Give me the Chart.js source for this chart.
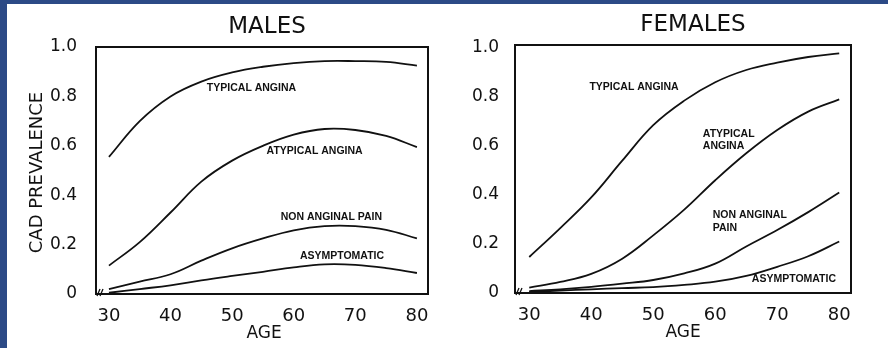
<!DOCTYPE html>
<html>
<head>
<meta charset="utf-8">
<script src="https://cdn.jsdelivr.net/npm/chart.js@4/dist/chart.umd.min.js"></script>
<style>
    html, body { margin: 0; padding: 0; }
    body { width: 888px; height: 348px; background: #2c4a86; position: relative; overflow: hidden; }
    #paper { position: absolute; left: 7px; top: 4px; width: 881px; height: 344px; background: #ffffff; }
    canvas { position: absolute; top: 0; }
    #males { left: 0; }
    #females { left: 444px; }
</style>
</head>
<body>
<div id="paper"></div>
<canvas id="males" width="444" height="348"></canvas>
<canvas id="females" width="444" height="348"></canvas>
<script>
const ages = [30, 35, 40, 45, 50, 55, 60, 65, 70, 75, 80];
const xTicks = [30, 40, 50, 60, 70, 80];
const yTicks = [0, 0.2, 0.4, 0.6, 0.8, 1.0];

const maleTypical = [0.555, 0.70, 0.80, 0.86, 0.897, 0.92, 0.935, 0.943, 0.943, 0.94, 0.925];
const maleAtypical = [0.115, 0.21, 0.33, 0.455, 0.54, 0.60, 0.645, 0.668, 0.664, 0.64, 0.595];
const maleNonAnginal = [0.02, 0.05, 0.08, 0.135, 0.185, 0.225, 0.258, 0.275, 0.275, 0.26, 0.225];
const maleAsymptomatic = [0.005, 0.02, 0.035, 0.055, 0.073, 0.09, 0.108, 0.12, 0.118, 0.105, 0.085];

const femaleTypical = [0.147, 0.265, 0.39, 0.54, 0.685, 0.785, 0.86, 0.91, 0.94, 0.963, 0.978];
const femaleAtypical = [0.022, 0.045, 0.078, 0.14, 0.235, 0.34, 0.46, 0.57, 0.665, 0.74, 0.79];
const femaleNonAnginal = [0.008, 0.015, 0.025, 0.038, 0.053, 0.08, 0.12, 0.19, 0.257, 0.33, 0.41];
const femaleAsymptomatic = [0.004, 0.01, 0.015, 0.02, 0.024, 0.033, 0.046, 0.07, 0.107, 0.15, 0.21];

// curve labels, anchored in data units (age, prevalence)
const maleNotes = [
    { text: "TYPICAL ANGINA", x: 45.9, y: 0.834 },
    { text: "ATYPICAL ANGINA", x: 55.6, y: 0.579 },
    { text: "NON ANGINAL PAIN", x: 57.9, y: 0.312 },
    { text: "ASYMPTOMATIC", x: 61.0, y: 0.154 }
];
const femaleNotes = [
    { text: "TYPICAL ANGINA", x: 39.7, y: 0.841 },
    { text: "ATYPICAL", x: 58.0, y: 0.649 },
    { text: "ANGINA", x: 58.0, y: 0.600 },
    { text: "NON ANGINAL", x: 59.6, y: 0.318 },
    { text: "PAIN", x: 59.6, y: 0.265 },
    { text: "ASYMPTOMATIC", x: 65.9, y: 0.057 }
];

const ink = "#111111";

function series(values) {
    return {
        data: ages.map((a, i) => ({ x: a, y: values[i] })),
        borderColor: ink,
        borderWidth: 1.8,
        pointRadius: 0,
        fill: false,
        tension: 0.4
    };
}

const decorPlugin = {
    id: "decor",
    afterDraw(chart, args, opts) {
        const ctx = chart.ctx;
        const area = chart.chartArea;
        const xs = chart.scales.x;
        const ys = chart.scales.y;
        ctx.save();

        // frame
        ctx.strokeStyle = ink;
        ctx.lineWidth = 2;
        ctx.strokeRect(area.left, area.top, area.right - area.left, area.bottom - area.top);

        // axis break marks
        ctx.lineWidth = 1.3;
        ctx.beginPath();
        ctx.moveTo(area.left + 1, area.bottom + 2);
        ctx.lineTo(area.left + 4, area.bottom - 5);
        ctx.moveTo(area.left + 4, area.bottom + 2);
        ctx.lineTo(area.left + 7, area.bottom - 5);
        ctx.stroke();

        // panel title
        ctx.fillStyle = ink;
        ctx.textAlign = "center";
        ctx.textBaseline = "middle";
        ctx.font = "23px 'DejaVu Sans'";
        ctx.fillText(opts.title, (area.left + area.right) / 2 + opts.titleShift, area.top - 20);

        // y axis title
        if (opts.yTitle) {
            ctx.save();
            ctx.translate(opts.yTitleX, (area.top + area.bottom) / 2 + 2);
            ctx.rotate(-Math.PI / 2);
            ctx.font = "18px 'DejaVu Sans'";
            ctx.fillText(opts.yTitle, 0, 0);
            ctx.restore();
        }

        // x axis title
        ctx.font = "17px 'DejaVu Sans'";
        ctx.fillText("AGE", (area.left + area.right) / 2 + opts.ageShift, area.bottom + 40);

        // curve labels
        ctx.textAlign = "left";
        ctx.font = "bold 10.5px 'Liberation Sans'";
        opts.notes.forEach((n) => {
            ctx.fillText(n.text, xs.getPixelForValue(n.x), ys.getPixelForValue(n.y));
        });
        ctx.restore();
    }
};

function makeChart(canvasId, sets, box) {
    return new Chart(document.getElementById(canvasId), {
        type: "line",
        data: { datasets: sets.map(series) },
        options: {
            responsive: false,
            animation: false,
            layout: { padding: { left: 0, right: box.right, top: box.top, bottom: 0 } },
            scales: {
                x: {
                    type: "linear",
                    min: box.xMin,
                    max: box.xMax,
                    grid: { display: false },
                    border: { display: false },
                    afterBuildTicks: (s) => { s.ticks = xTicks.map((v) => ({ value: v })); },
                    afterFit: (s) => { s.height = box.xHeight; },
                    ticks: {
                        padding: 4,
                        color: ink,
                        font: { family: "DejaVu Sans", size: 18 }
                    }
                },
                y: {
                    min: 0,
                    max: box.yMax,
                    grid: { display: false },
                    border: { display: false },
                    afterBuildTicks: (s) => { s.ticks = yTicks.map((v) => ({ value: v })); },
                    afterFit: (s) => { s.width = box.yWidth; },
                    ticks: {
                        padding: box.yPad,
                        color: ink,
                        font: { family: "DejaVu Sans", size: 17 },
                        callback: (v) => (v === 0 ? "0" : v.toFixed(1))
                    }
                }
            },
            plugins: {
                legend: { display: false },
                tooltip: { enabled: false },
                decor: box.decor
            }
        },
        plugins: [decorPlugin]
    });
}

makeChart("males", [maleTypical, maleAtypical, maleNonAnginal, maleAsymptomatic], {
    right: 16, top: 47, xHeight: 54, yWidth: 96, yPad: 11,
    xMin: 27.9, xMax: 81.8, yMax: 1.0,
    decor: { title: "MALES", titleShift: 5, yTitle: "CAD PREVALENCE", yTitleX: 37, ageShift: 2, notes: maleNotes }
});

makeChart("females", [femaleTypical, femaleAtypical, femaleNonAnginal, femaleAsymptomatic], {
    right: 37, top: 45, xHeight: 55, yWidth: 71, yPad: 8,
    xMin: 27.7, xMax: 81.9, yMax: 1.012,
    decor: { title: "FEMALES", titleShift: 10, yTitle: "", yTitleX: 0, ageShift: 0, notes: femaleNotes }
});
</script>
</body>
</html>
